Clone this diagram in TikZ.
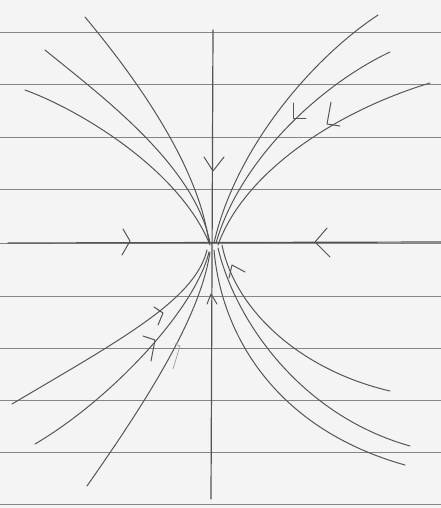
\documentclass[tikz,border=0pt]{standalone}
\usepackage{tikz}
\usetikzlibrary{arrows.meta}
\definecolor{PhasePaper}{gray}{0.955}
\definecolor{PhaseRule}{gray}{0.52}
\definecolor{PhaseInk}{gray}{0.33}
\definecolor{PhaseFaint}{gray}{0.62}
\tikzset{
    phase/diagram/.style={
        line cap=round,
        line join=round
    },
    phase/rule/.style={draw=PhaseRule, line width=0.55pt},
    phase/axis/.style={draw=PhaseInk, line width=0.85pt},
    phase/orbit/.style={draw=PhaseInk, line width=0.7pt},
    phase/tick/.style={draw=PhaseInk, line width=0.7pt},
    phase/faint/.style={draw=PhaseFaint, line width=0.5pt}
}
\begin{document}
\begin{tikzpicture}[phase/diagram, x=0.025cm, y=-0.025cm]
    \fill[PhasePaper] (0,0) rectangle (441,508);
    \useasboundingbox (0,0) rectangle (441,508);
    % ruled paper
    \foreach \ry in {32,84,137,189,243,296,348,400,452,504}
        \draw[phase/rule] (0,\ry) -- (441,\ry);

    % axes
    \draw[phase/axis] (8,243) -- (441,242);
    \draw[phase/axis] (213,30) -- (211,499);

    % upper left orbits
    \draw[phase/orbit] (85,17) .. controls (150,95) and (200,175) .. (209,243);
    \draw[phase/orbit] (45,50) .. controls (100,95) and (195,165) .. (210,243);
    \draw[phase/orbit] (25,90) .. controls (80,110) and (180,170) .. (210,245);

    % upper right orbits
    \draw[phase/orbit] (378,15) .. controls (310,60) and (235,150) .. (214,243);
    \draw[phase/orbit] (390,52) .. controls (320,85) and (240,160) .. (216,243);
    \draw[phase/orbit] (430,83) .. controls (340,110) and (245,170) .. (218,245);

    % lower right orbits
    \draw[phase/orbit] (390,391) .. controls (300,370) and (235,310) .. (222,245);
    \draw[phase/orbit] (410,446) .. controls (300,415) and (235,320) .. (218,248);
    \draw[phase/orbit] (405,465) .. controls (280,430) and (222,340) .. (214,250);

    % lower left orbits
    \draw[phase/orbit] (12,404) .. controls (120,340) and (195,300) .. (207,250);
    \draw[phase/orbit] (35,444) .. controls (110,400) and (195,310) .. (209,252);
    \draw[phase/orbit] (87,486) .. controls (140,410) and (200,320) .. (210,252);

    % direction ticks
    \draw[phase/tick] (204,157) -- (213,171) -- (224,157);
    \draw[phase/tick] (207,304) -- (211,294) -- (217,304);
    \draw[phase/tick] (123,229) -- (130,241) -- (122,255);
    \draw[phase/tick] (327,228) -- (315,242) -- (330,257);
    \draw[phase/tick] (293,103) -- (293,118) -- (306,118);
    \draw[phase/tick] (331,102) -- (327,124) -- (340,126);
    \draw[phase/tick] (229,278) -- (232,265) -- (245,272);
    \draw[phase/tick] (154,307) -- (163,313) -- (158,325);
    \draw[phase/tick] (143,336) -- (155,340) -- (151,361);
    \draw[phase/faint] (175,344) -- (180,346) -- (173,369);
\end{tikzpicture}
\end{document}
